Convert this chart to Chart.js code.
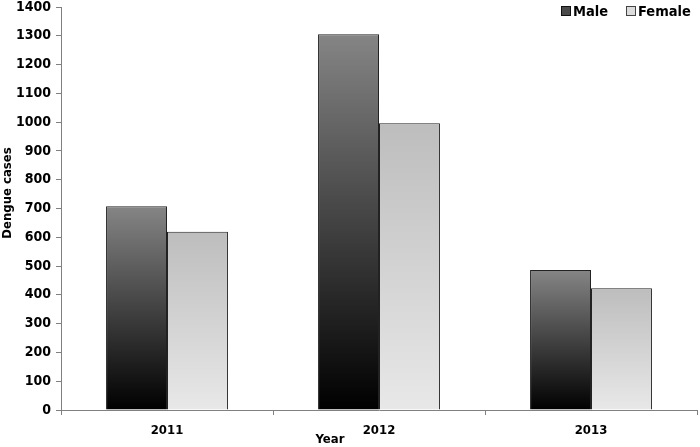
<!DOCTYPE html>
<html lang="en">
<head>
    <meta charset="UTF-8">
    <title>Dengue cases by year</title>
    <script src="https://cdn.jsdelivr.net/npm/chart.js"></script>
    <style>
        html, body { margin: 0; padding: 0; background: #fff; }
        .grafico { width: 700px; height: 447px; }
    </style>
</head>
<body>
    <div class="grafico">
        <canvas id="myChart" width="700" height="447"></canvas>
    </div>

<script>
    const anos = ['2011', '2012', '2013'];
    const casosMasculino = [708, 1305, 486];
    const casosFeminino = [619, 996, 423];
    const serieNomes = ['Male', 'Female'];

    const fonte = "'DejaVu Sans Condensed', 'DejaVu Sans', Verdana, sans-serif";

    // gradiente vertical por barra (topo -> base)
    function gradienteBarra(cores) {
        return function (c) {
            const chart = c.chart;
            const y = chart.scales && chart.scales.y;
            if (!y || c.parsed == null || c.dataIndex === undefined) return cores[0];
            const topo = y.getPixelForValue(c.parsed.y);
            const base = y.getPixelForValue(0);
            if (!isFinite(topo) || !isFinite(base) || topo === base) return cores[0];
            const g = chart.ctx.createLinearGradient(0, topo, 0, base);
            g.addColorStop(0, cores[0]);
            g.addColorStop(1, cores[1]);
            return g;
        };
    }

    // titulos dos eixos e legenda desenhados a mao
    const extras = {
        id: 'extras',
        afterDraw(chart) {
            const ctx = chart.ctx;
            ctx.save();
            ctx.fillStyle = '#000';
            ctx.font = 'bold 13px ' + fonte;
            ctx.textAlign = 'center';
            ctx.textBaseline = 'middle';
            ctx.fillText('Year', 330, 440);

            ctx.save();
            ctx.translate(8, 193);
            ctx.rotate(-Math.PI / 2);
            ctx.fillText('Dengue cases', 0, 0);
            ctx.restore();

            // legenda
            const itens = [
                { x: 561, fill: '#4a4a4a', stroke: '#111' },
                { x: 626, fill: '#dcdcdc', stroke: '#444' }
            ];
            ctx.font = 'bold 14.5px ' + fonte;
            ctx.textAlign = 'left';
            itens.forEach((it, i) => {
                ctx.fillStyle = it.fill;
                ctx.fillRect(it.x, 6, 10, 10);
                ctx.strokeStyle = it.stroke;
                ctx.lineWidth = 1;
                ctx.strokeRect(it.x + 0.5, 6.5, 9, 9);
                ctx.fillStyle = '#000';
                ctx.fillText(serieNomes[i], it.x + 12, 12);
            });
            ctx.restore();
        }
    };

    const ctx = document.getElementById('myChart');

    new Chart(ctx, {
        type: 'bar',
        data: {
            labels: anos,
            datasets: [{
                label: serieNomes[0],
                data: casosMasculino,
                backgroundColor: gradienteBarra(['#858585', '#000000']),
                borderColor: '#222',
                borderWidth: 1,
                categoryPercentage: 0.575,
                barPercentage: 1
            }, {
                label: serieNomes[1],
                data: casosFeminino,
                backgroundColor: gradienteBarra(['#bdbdbd', '#e8e8e8']),
                borderColor: '#222',
                borderWidth: 1,
                categoryPercentage: 0.575,
                barPercentage: 1
            }]
        },
        options: {
            responsive: false,
            animation: false,
            layout: { padding: { left: 0, right: 3, top: 0, bottom: 0 } },
            plugins: {
                tooltip: { enabled: false },
                legend: { display: false }
            },
            scales: {
                x: {
                    grid: {
                        display: true,
                        drawOnChartArea: false,
                        drawTicks: true,
                        tickLength: 5,
                        color: '#808080',
                        offset: true
                    },
                    border: { color: '#808080' },
                    ticks: {
                        color: '#000',
                        padding: 8,
                        font: { family: fonte, size: 13, weight: 'bold' }
                    },
                    afterFit(scale) { scale.height = 37; }
                },
                y: {
                    min: 0,
                    max: 1400,
                    grid: {
                        drawOnChartArea: false,
                        drawTicks: true,
                        tickLength: 5,
                        color: '#808080'
                    },
                    border: { color: '#808080' },
                    ticks: {
                        stepSize: 100,
                        color: '#000',
                        padding: 5,
                        font: { family: fonte, size: 14, weight: 'bold' },
                        callback: v => String(v)
                    },
                    afterFit(scale) {
                        scale.width = 61;
                        scale.paddingTop = 7;
                        scale.paddingBottom = 0;
                    }
                }
            }
        },
        plugins: [extras]
    });
</script>
</body>
</html>
